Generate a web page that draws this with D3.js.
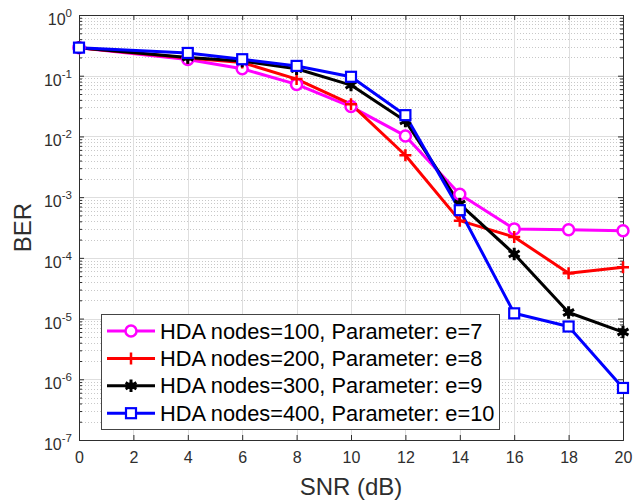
<!DOCTYPE html>
<html>
<head>
<meta charset="utf-8">
<script src="https://cdn.jsdelivr.net/npm/d3@7"></script>
<style>
  body { margin: 0; background: #fff; }
  svg { display: block; font-family: "Liberation Sans", Arial, sans-serif; }
</style>
</head>
<body>
<div id="chart"></div>
<script>
// BER vs SNR curves, log scale
const snr = [0, 4, 6, 8, 10, 12, 14, 16, 18, 20]
const ber100 = [0.29, 0.185, 0.13, 0.072, 0.031, 0.0102, 0.00112, 3.0e-4, 2.9e-4, 2.8e-4]
const ber200 = [0.29, 0.195, 0.165, 0.088, 0.034, 0.0049, 4.1e-4, 2.2e-4, 5.6e-5, 7.0e-5]
const ber300 = [0.29, 0.2, 0.175, 0.13, 0.070, 0.018, 7.7e-4, 1.16e-4, 1.26e-5, 6.0e-6]
const ber400 = [0.29, 0.237, 0.187, 0.145, 0.096, 0.0224, 6.1e-4, 1.22e-5, 7.4e-6, 7.2e-7]
const seriesNames = [
  "HDA nodes=100, Parameter: e=7",
  "HDA nodes=200, Parameter: e=8",
  "HDA nodes=300, Parameter: e=9",
  "HDA nodes=400, Parameter: e=10"
]
const xTicks = [0, 2, 4, 6, 8, 10, 12, 14, 16, 18, 20]
const yExponents = [0, -1, -2, -3, -4, -5, -6, -7]

const series = [
  { name: seriesNames[0], values: ber100, color: "#ff00ff", marker: "circle" },
  { name: seriesNames[1], values: ber200, color: "#ff0000", marker: "plus" },
  { name: seriesNames[2], values: ber300, color: "#000000", marker: "star" },
  { name: seriesNames[3], values: ber400, color: "#0000ff", marker: "square" }
]

const W = 633, H = 503
const margin = { top: 15, right: 10, bottom: 63, left: 79 }
const width = W - margin.left - margin.right
const height = H - margin.top - margin.bottom
const axisColor = "#2e2e2e"

const svg = d3.select("#chart").append("svg")
  .attr("width", W)
  .attr("height", H)

const g = svg.append("g")
  .attr("transform", `translate(${margin.left},${margin.top})`)

const x = d3.scaleLinear().domain([0, 20]).range([0, width])
const y = d3.scaleLog().domain([1e-7, 1]).range([height, 0])

// minor y values (2..9 in each decade)
const minorY = []
for (let e = -7; e < 0; e++) {
  for (let k = 2; k <= 9; k++) minorY.push(k * Math.pow(10, e))
}

// minor grid (dotted)
g.append("g").selectAll("line")
  .data(minorY)
  .enter().append("line")
  .attr("x1", 0).attr("x2", width)
  .attr("y1", d => Math.round(y(d)) + 0.5).attr("y2", d => Math.round(y(d)) + 0.5)
  .attr("stroke", "#c8c8c8")
  .attr("stroke-width", 1)
  .attr("stroke-dasharray", "1,2")

// major grid
g.append("g").selectAll("line")
  .data(xTicks.slice(1, -1))
  .enter().append("line")
  .attr("x1", d => Math.round(x(d)) + 0.5).attr("x2", d => Math.round(x(d)) + 0.5)
  .attr("y1", 0).attr("y2", height)
  .attr("stroke", "#dedede")

g.append("g").selectAll("line")
  .data(yExponents.slice(1, -1))
  .enter().append("line")
  .attr("x1", 0).attr("x2", width)
  .attr("y1", d => Math.round(y(Math.pow(10, d))) + 0.5).attr("y2", d => Math.round(y(Math.pow(10, d))) + 0.5)
  .attr("stroke", "#dedede")

// axes (ticks inward)
const xAxis = d3.axisBottom(x).tickValues(xTicks).tickSize(-5).tickPadding(12)
const xAxisTop = d3.axisTop(x).tickValues(xTicks).tickSize(-5).tickFormat("")
const yMajor = yExponents.map(e => Math.pow(10, e))
const yAxis = d3.axisLeft(y).tickValues(yMajor).tickSize(-5).tickFormat("")
const yAxisRight = d3.axisRight(y).tickValues(yMajor).tickSize(-5).tickFormat("")
const yMinorL = d3.axisLeft(y).tickValues(minorY).tickSize(-3).tickFormat("")
const yMinorR = d3.axisRight(y).tickValues(minorY).tickSize(-3).tickFormat("")

function styleAxis(sel) {
  sel.attr("font-size", null).attr("font-family", null)
  sel.select(".domain").attr("stroke", axisColor)
  sel.selectAll(".tick line").attr("stroke", axisColor)
  sel.selectAll(".tick text")
    .attr("fill", axisColor)
    .style("font-size", "16px")
}

g.append("g").attr("transform", `translate(0,${height})`).call(xAxis).call(styleAxis)
g.append("g").call(xAxisTop).call(styleAxis)
g.append("g").call(yAxis).call(styleAxis)
g.append("g").attr("transform", `translate(${width},0)`).call(yAxisRight).call(styleAxis)
g.append("g").call(yMinorL).call(styleAxis).select(".domain").remove()
g.append("g").attr("transform", `translate(${width},0)`).call(yMinorR).call(styleAxis).select(".domain").remove()

// y tick labels 10^e
const yLab = g.append("g").selectAll("text")
  .data(yExponents)
  .enter().append("text")
  .attr("x", -7)
  .attr("y", d => y(Math.pow(10, d)) + 10)
  .attr("text-anchor", "end")
  .attr("fill", axisColor)
  .style("font-size", "16px")
yLab.append("tspan").text("10")
yLab.append("tspan").attr("dy", -8).style("font-size", "11.5px").text(d => d)

// axis titles
svg.append("text")
  .attr("x", margin.left + width / 2)
  .attr("y", 495)
  .attr("text-anchor", "middle")
  .attr("fill", axisColor)
  .style("font-size", "24px")
  .text("SNR (dB)")

svg.append("text")
  .attr("transform", `translate(31,${margin.top + height / 2}) rotate(-90)`)
  .attr("text-anchor", "middle")
  .attr("fill", axisColor)
  .style("font-size", "24px")
  .text("BER")

// markers
function drawMarker(sel, type, color) {
  if (type === "circle") {
    sel.append("circle").attr("r", 5.5).attr("fill", "#fff").attr("stroke", color).attr("stroke-width", 2.5)
  } else if (type === "square") {
    sel.append("rect").attr("x", -5).attr("y", -5).attr("width", 10).attr("height", 10)
      .attr("fill", "#fff").attr("stroke", color).attr("stroke-width", 2.2)
  } else if (type === "plus") {
    sel.append("path").attr("d", "M-6,0H6M0,-6V6").attr("stroke", color).attr("stroke-width", 2.5)
  } else if (type === "star") {
    sel.append("path").attr("d", d3.symbol(d3.symbolAsterisk, 110)())
      .attr("stroke", color).attr("stroke-width", 3).attr("fill", "none")
    sel.append("circle").attr("r", 3.5).attr("fill", color)
  }
}

const line = d3.line()
  .x((d, i) => x(snr[i]))
  .y(d => y(d))

const plot = g.append("g")
series.forEach(s => {
  plot.append("path")
    .datum(s.values)
    .attr("d", line)
    .attr("fill", "none")
    .attr("stroke", s.color)
    .attr("stroke-width", 3)
    .attr("stroke-linejoin", "round")
})
series.forEach(s => {
  s.values.forEach((v, i) => {
    const m = plot.append("g").attr("transform", `translate(${x(snr[i])},${y(v)})`)
    drawMarker(m, s.marker, s.color)
  })
})

// legend
const legend = svg.append("g").attr("transform", "translate(101,314)")
legend.append("rect")
  .attr("x", 0.5).attr("y", 0.5)
  .attr("width", 398).attr("height", 115)
  .attr("fill", "#fff")
  .attr("stroke", "#444")
  .attr("stroke-width", 1)

series.forEach((s, i) => {
  const row = legend.append("g").attr("transform", `translate(0,${17 + i * 27.4})`)
  row.append("line")
    .attr("x1", 6).attr("x2", 54)
    .attr("stroke", s.color).attr("stroke-width", 3)
  drawMarker(row.append("g").attr("transform", "translate(30,0)"), s.marker, s.color)
  row.append("text")
    .attr("x", 59)
    .attr("y", 7.5)
    .attr("fill", "#000")
    .style("font-size", "21.8px")
    .text(s.name)
})
</script>
</body>
</html>
